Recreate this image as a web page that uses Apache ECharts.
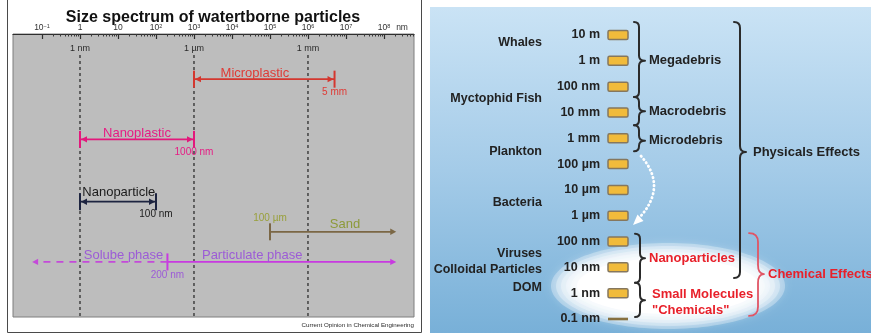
<!DOCTYPE html>
<html>
<head>
<meta charset="utf-8">
<script src="https://cdn.jsdelivr.net/npm/echarts@6/dist/echarts.min.js"></script>
<style>
  html, body { margin: 0; padding: 0; background: #ffffff; }
  #chart { width: 871px; height: 333px; }
</style>
</head>
<body>
<div id="chart"></div>
<script>
// ---------------- Size spectrum of waterborne particles (left) ----------------
// Ruler ticks, in nanometres
const decadeValues = [0.1, 1, 10, 100, 1e3, 1e4, 1e5, 1e6, 1e7, 1e8];
const decadeBase   = ['10', '1', '10', '10', '10', '10', '10', '10', '10', '10'];
const decadeExp    = ['−1', '', '', '2', '3', '4', '5', '6', '7', '8'];
const minorSteps   = [2, 3, 4, 5, 6, 7, 8, 9];

// Reference sizes marked with dashed guides
const guideValues = [1, 1e3, 1e6];
const guideLabels = ['1 nm', '1 µm', '1 mm'];

// Size ranges (nm)
const spanNames   = ['Microplastic', 'Nanoplastic', 'Nanoparticle', 'Sand', 'Particulate phase', 'Solube phase'];
const spanFrom    = [1e3, 1, 1, 1e5, 200, 200];
const spanTo      = [5e6, 1e3, 100, 2.1e8, 2.1e8, 0.055];
const spanNameAt  = [4e4, 31.6, 10.5, 9.4e6, 3.4e4, 14];
const edgeLabels  = ['5 mm', '1000 nm', '100 nm', '100 µm', '200 nm', ''];
const edgeAt      = [5e6, 1e3, 100, 1e5, 200, null];

// ---------------- Size scale of marine debris (right) ----------------
const sizeDecades = [0.1, 1, 10, 100, 1e3, 1e4, 1e5, 1e6, 1e7, 1e8, 1e9, 1e10];
const sizeLabels  = ['0.1 nm', '1 nm', '10 nm', '100 nm', '1 µm', '10 µm', '100 µm', '1 mm', '10 mm', '100 nm', '1 m', '10 m'];

const organismNames = ['Whales', 'Myctophid Fish', 'Plankton', 'Bacteria', 'Viruses', 'Colloidal Particles', 'DOM'];
const organismSizes = [4.9e9, 3.6e7, 3.2e5, 3.1e3, 33, 7.9, 1.7];

// Grouping braces: range covered (log10 nm) and where the brace points
const braceNames  = ['Megadebris', 'Macrodebris', 'Microdebris', 'Physicals Effects', 'Nanoparticles', 'Small Molecules\n"Chemicals"', 'Chemical Effects'];
const braceTopExp = [10.5, 7.6, 6.5, 10.5, 2.3, 0.4, 2.33];
const braceBotExp = [7.6, 6.5, 5.5, 0.59, 0.4, -0.92, -0.88];
const braceTipExp = [9.0, 7.05, 5.9, 5.47, 1.35, -0.27, 0.74];

// ---------------- styling ----------------
const FONT = '"Liberation Sans", Arial, Helvetica, sans-serif';
const LANES = { guideTop: 0.7, guideLabel: 0.47, rows: [1.5, 3.5, 5.57, 6.57, 7.57, 7.57], max: 9.4 };
const SPAN_STYLE = [
  { line: '#d4372f', text: '#df3b36', edge: '#df3b36', startCap: true, endCap: true, startArrow: true, endArrow: true, edgePlace: 'below', lift: 0 },
  { line: '#e3187c', text: '#e61c84', edge: '#e61c84', startCap: true, endCap: true, startArrow: true, endArrow: true, edgePlace: 'below', lift: 0 },
  { line: '#1d2440', text: '#1b1b1b', edge: '#1b1b1b', startCap: true, endCap: true, startArrow: true, endArrow: true, edgePlace: 'below', lift: 3 },
  { line: '#7b6745', text: '#8d9a3a', edge: '#99a03c', startCap: true, endCap: false, startArrow: false, endArrow: true, edgePlace: 'above', lift: 1.5 },
  { line: '#c83ae0', text: '#9c5cd6', edge: '#9c5cd6', startCap: true, endCap: false, startArrow: false, endArrow: true, edgePlace: 'below', lift: 0 },
  { line: '#c44ad9', text: '#9c5cd6', edge: '#9c5cd6', startCap: false, endCap: false, startArrow: false, endArrow: true, dashed: true, edgePlace: 'below', lift: 0 }
];
// Right panel: horizontal offsets from the size axis
const R = {
  barX: 4, barW: 20, barH: 9,
  organismRight: -62,
  braceX:  [35, 35, 35, 136, 36, 36, 154],
  braceW:  [6, 6, 6, 6, 5, 5, 6],
  braceC:  [5, 5, 5, 6, 5, 5, 9],
  labelX:  [45, 45, 45, 149, 45, 48, 164],
  braceColor: ['#2b2b2b', '#2b2b2b', '#2b2b2b', '#2b2b2b', '#2b2b2b', '#2b2b2b', '#e05565'],
  labelColor: ['#222222', '#222222', '#222222', '#222222', '#e8202a', '#e8202a', '#e8202a'],
  braceWidth: [2, 2, 2, 2, 2, 2, 1.8]
};

const minorTicks = [];
decadeValues.forEach(function (d) {
  minorSteps.forEach(function (m) { minorTicks.push(d * m); });
});

const X_MIN = Math.pow(10, -1.763);
const X_MAX = Math.pow(10, 8.79);

function capLine(x, y, color) {
  return { type: 'line', shape: { x1: x, y1: y - 8.5, x2: x, y2: y + 8.5 }, style: { stroke: color, lineWidth: 2 } };
}
function arrowHead(x, y, dir, color) {
  return { type: 'polygon', shape: { points: [[x, y], [x - dir * 6, y - 3.2], [x - dir * 6, y + 3.2]] }, style: { fill: color } };
}

function renderSpan(params, api) {
  const i = params.dataIndex;
  const s = SPAN_STYLE[i];
  const row = api.value(2);
  const a = api.coord([api.value(0), row]);
  const b = api.coord([api.value(1), row]);
  const y = a[1];
  const dir = b[0] > a[0] ? 1 : -1;
  const children = [];
  const inset = s.startCap ? 1 : 0;
  children.push({
    type: 'line',
    shape: { x1: a[0], y1: y, x2: b[0] - dir * (s.endArrow && !s.endCap ? 3 : 0), y2: y },
    style: { stroke: s.line, lineWidth: 1.8, lineDash: s.dashed ? [7, 6] : null }
  });
  if (s.startCap) children.push(capLine(a[0], y, s.line));
  if (s.endCap) children.push(capLine(b[0], y, s.line));
  if (s.startArrow) children.push(arrowHead(a[0] + dir * inset, y, -dir, s.line));
  if (s.endArrow) children.push(arrowHead(b[0] - dir * (s.endCap ? 1 : 0), y, dir, s.line));
  const n = api.coord([spanNameAt[i], row]);
  children.push({
    type: 'text',
    style: { text: spanNames[i], x: n[0], y: y + 0.5 - s.lift, align: 'center', verticalAlign: 'bottom',
      fill: s.text, fontSize: 13, fontFamily: FONT }
  });
  if (edgeAt[i] != null) {
    const e = api.coord([edgeAt[i], row]);
    children.push({
      type: 'text',
      style: { text: edgeLabels[i], x: e[0], y: s.edgePlace === 'above' ? y - 14 : y + 13,
        align: 'center', verticalAlign: 'middle', fill: s.edge, fontSize: 10, fontFamily: FONT }
    });
  }
  return { type: 'group', children: children };
}

function renderGuide(params, api) {
  const v = api.value(0);
  const top = api.coord([v, LANES.guideTop]);
  const bottom = api.coord([v, LANES.max]);
  const lab = api.coord([v, LANES.guideLabel]);
  return {
    type: 'group',
    children: [
      { type: 'line', shape: { x1: top[0], y1: top[1], x2: bottom[0], y2: bottom[1] - 1 },
        style: { stroke: '#2e2e2e', lineWidth: 1.3, lineDash: [3, 3] } },
      { type: 'text', style: { text: guideLabels[params.dataIndex], x: lab[0], y: lab[1],
        align: 'center', verticalAlign: 'middle', fill: '#2a2a2a', fontSize: 9, fontFamily: FONT } }
    ]
  };
}

function sizeY(api, dim) {
  return api.coord([0, api.value(dim)])[1];
}

function renderSizeBar(params, api) {
  const y = sizeY(api, 1);
  const x = params.coordSys.x + R.barX;
  if (params.dataIndex === 0) {
    return { type: 'rect', shape: { x: x, y: y - 1.3, width: R.barW, height: 2.6 }, style: { fill: '#86703f' } };
  }
  return { type: 'rect', shape: { x: x, y: y - R.barH / 2, width: R.barW, height: R.barH, r: 1.5 },
    style: { fill: '#f1bb3b', stroke: '#85775e', lineWidth: 1.5 } };
}

function renderOrganism(params, api) {
  const y = sizeY(api, 1);
  return { type: 'text', style: { text: organismNames[params.dataIndex], x: params.coordSys.x + R.organismRight, y: y,
    align: 'right', verticalAlign: 'middle', fill: '#222222', fontSize: 12.5, fontWeight: 'bold', fontFamily: FONT } };
}

function bracePath(x, yTop, yBot, yTip, w, c) {
  return 'M' + (x - c) + ',' + yTop +
    ' Q' + x + ',' + yTop + ' ' + x + ',' + (yTop + c) +
    ' L' + x + ',' + (yTip - c) +
    ' Q' + x + ',' + yTip + ' ' + (x + w) + ',' + yTip +
    ' Q' + x + ',' + yTip + ' ' + x + ',' + (yTip + c) +
    ' L' + x + ',' + (yBot - c) +
    ' Q' + x + ',' + yBot + ' ' + (x - c) + ',' + yBot;
}

function renderBrace(params, api) {
  const i = params.dataIndex;
  const yTop = sizeY(api, 1);
  const yBot = sizeY(api, 2);
  const yTip = sizeY(api, 3);
  const x = params.coordSys.x + R.braceX[i];
  return {
    type: 'group',
    children: [
      { type: 'path', shape: { pathData: bracePath(x, yTop, yBot, yTip, R.braceW[i], R.braceC[i]) },
        style: { fill: null, stroke: R.braceColor[i], lineWidth: R.braceWidth[i], lineJoin: 'round', lineCap: 'round' } },
      { type: 'text', style: { text: braceNames[i], x: params.coordSys.x + R.labelX[i], y: yTip + (i === 5 ? 2 : 0),
        align: 'left', verticalAlign: 'middle',
        fill: R.labelColor[i], fontSize: 13, fontWeight: 'bold', fontFamily: FONT, lineHeight: 16 } }
    ]
  };
}

// Soft white glow: stacked translucent ellipses
const glow = [];
[[117, 43], [112, 40], [107, 37], [102, 34], [97, 31], [91, 28]].forEach(function (r, k) {
  glow.push({ type: 'ellipse', z: 1, shape: { cx: 668, cy: 286, rx: r[0], ry: r[1] },
    style: { fill: 'rgba(255,255,255,' + (k === 5 ? 0.95 : 0.3) + ')', shadowBlur: 8, shadowColor: 'rgba(255,255,255,0.5)' } });
});

const chart = echarts.init(document.getElementById('chart'));

chart.setOption({
  animation: false,
  backgroundColor: '#ffffff',
  title: {
    text: 'Size spectrum of watertborne particles',
    left: 208, top: 5, textAlign: 'center',
    textStyle: { fontSize: 16, fontWeight: 'bold', color: '#111111', fontFamily: FONT }
  },
  grid: [
    { left: 13, right: 457, top: 34, bottom: 16, show: true, backgroundColor: '#bdbdbd', borderColor: '#7e7e7e', borderWidth: 1 },
    { left: 604, right: 0, top: 35, bottom: 14 }
  ],
  xAxis: [
    {
      gridIndex: 0, type: 'log', logBase: 10, position: 'top', min: X_MIN, max: X_MAX,
      axisLine: { show: true, lineStyle: { color: '#2f2f2f', width: 1.2 } },
      axisTick: { show: true, inside: true, length: 5, customValues: decadeValues, lineStyle: { color: '#2f2f2f', width: 1.2 } },
      axisLabel: {
        show: true, margin: 1, customValues: decadeValues,
        formatter: function (v) {
          const k = decadeValues.findIndex(function (d) { return Math.abs(Math.log10(d) - Math.log10(v)) < 1e-6; });
          if (k < 0) return '';
          return decadeExp[k] ? '{b|' + decadeBase[k] + '}{s|' + decadeExp[k] + '}' : '{b|' + decadeBase[k] + '}';
        },
        rich: {
          b: { fontSize: 8.5, lineHeight: 10, color: '#333333', fontFamily: FONT },
          s: { fontSize: 5.5, lineHeight: 4, verticalAlign: 'top', color: '#333333', fontFamily: FONT }
        }
      },
      splitLine: { show: false },
      name: 'nm', nameLocation: 'end', nameGap: -18,
      nameTextStyle: { fontSize: 8.5, color: '#333333', fontFamily: FONT, verticalAlign: 'bottom', padding: [0, 0, 2, 0] }
    },
    {
      gridIndex: 0, type: 'log', logBase: 10, position: 'top', min: X_MIN, max: X_MAX,
      axisLine: { show: false },
      axisTick: { show: true, inside: true, length: 2.5, customValues: minorTicks, lineStyle: { color: '#3a3a3a', width: 1 } },
      axisLabel: { show: false },
      splitLine: { show: false }
    },
    { gridIndex: 1, type: 'value', min: 0, max: 1, show: false }
  ],
  yAxis: [
    { gridIndex: 0, type: 'value', inverse: true, min: 0, max: LANES.max, show: false },
    {
      gridIndex: 1, type: 'log', logBase: 10, min: 0.1, max: 1e10, z: 10,
      axisLine: { show: false }, axisTick: { show: false }, splitLine: { show: false },
      axisLabel: {
        margin: 4, customValues: sizeDecades,
        formatter: function (v) { return sizeLabels[Math.round(Math.log10(v)) + 1]; },
        fontSize: 12.5, fontWeight: 'bold', color: '#222222', fontFamily: FONT
      }
    }
  ],
  graphic: [
    // left panel frame and credit
    { type: 'rect', z: 0, shape: { x: 7.5, y: -2, width: 414, height: 334.5 }, style: { fill: null, stroke: '#4a4a4a', lineWidth: 1 } },
    { type: 'text', z: 1, style: { text: 'Current Opinion in Chemical Engineering', x: 414, y: 325, align: 'right', verticalAlign: 'middle',
        fill: '#2a2a2a', fontSize: 6.2, fontFamily: FONT } },
    // right panel water background
    { type: 'rect', z: 0, shape: { x: 430, y: 7, width: 441, height: 326 },
      style: { fill: new echarts.graphic.LinearGradient(0, 0, 0, 1, [
        { offset: 0, color: '#cae3f5' }, { offset: 0.5, color: '#a4cbe8' }, { offset: 1, color: '#78b0d8' }]) } }
  ].concat(glow).concat([
    // fragmentation arrow
    { type: 'bezierCurve', z: 2, shape: { x1: 641, y1: 156, cpx1: 668, cpy1: 187, x2: 639, y2: 218 },
      style: { fill: null, stroke: '#ffffff', lineWidth: 2.8, lineDash: [0.5, 3.6], lineCap: 'round' } },
    { type: 'polygon', z: 2, shape: { points: [[633, 225], [637.5, 214.5], [643.5, 221]] }, style: { fill: '#ffffff' } }
  ]),
  series: [
    {
      type: 'custom', name: 'guides', xAxisIndex: 0, yAxisIndex: 0, z: 3,
      data: guideValues.map(function (v) { return [v]; }),
      renderItem: renderGuide
    },
    {
      type: 'custom', name: 'ranges', xAxisIndex: 0, yAxisIndex: 0, z: 4,
      data: spanNames.map(function (n, i) { return [spanFrom[i], spanTo[i], LANES.rows[i]]; }),
      renderItem: renderSpan
    },
    {
      type: 'custom', name: 'organisms', xAxisIndex: 2, yAxisIndex: 1, z: 10,
      data: organismSizes.map(function (v) { return [0, v]; }),
      renderItem: renderOrganism
    },
    {
      type: 'custom', name: 'size bars', xAxisIndex: 2, yAxisIndex: 1, z: 10,
      data: sizeDecades.map(function (v) { return [0, v]; }),
      renderItem: renderSizeBar
    },
    {
      type: 'custom', name: 'groups', xAxisIndex: 2, yAxisIndex: 1, z: 10,
      data: braceNames.map(function (n, i) {
        return [0, Math.pow(10, braceTopExp[i]), Math.pow(10, braceBotExp[i]), Math.pow(10, braceTipExp[i])];
      }),
      renderItem: renderBrace
    }
  ]
});
</script>
</body>
</html>
